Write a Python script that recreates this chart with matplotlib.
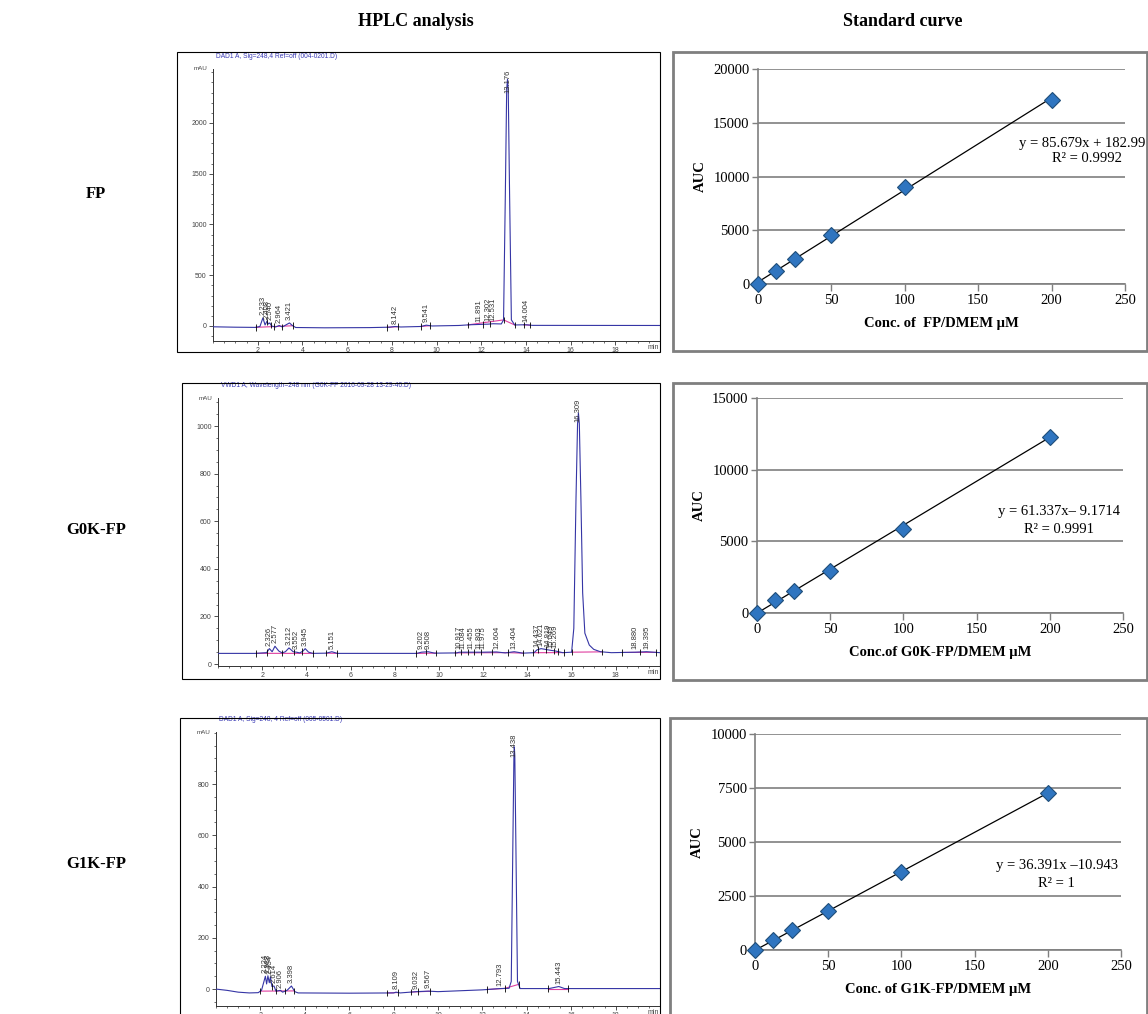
import numpy as np
import matplotlib
matplotlib.use("Agg")
import matplotlib.pyplot as plt
from matplotlib.patches import Rectangle
from matplotlib.ticker import MultipleLocator

plt.rcParams["font.family"] = ["Liberation Serif", "DejaVu Serif"]

W, H = 1148, 1014

# standard curves
conc = [0, 12.5, 25, 50, 100, 200]
auc_fp = [0, 1180, 2330, 4560, 9050, 17120]
auc_g0k = [0, 900, 1560, 2930, 5860, 12300]
auc_g1k = [0, 460, 925, 1820, 3610, 7270]
fit_fp = (85.679, 182.99)
fit_g0k = (61.337, -9.1714)
fit_g1k = (36.391, -10.943)

# chromatograms, points (min, mAU)
fp_t = [0, 1, 1.9, 2.1, 2.233, 2.33, 2.41, 2.48, 2.54, 2.62, 2.8, 2.964, 3.1, 3.3, 3.421, 3.55,
        3.7, 5, 7, 7.9, 8.142, 8.4, 9.3, 9.541, 9.8, 11, 11.5, 11.891, 12.302, 12.531, 12.9,
        13.0, 13.08, 13.14, 13.176, 13.21, 13.27, 13.35, 13.5, 14.004, 14.3, 20]
fp_mau = [-8, -12, -14, -5, 80, 10, 45, 20, 30, 0, -10, 5, -10, 15, 30, 5,
          -15, -18, -16, -12, -5, -10, -5, 8, 0, 5, 12, 15, 18, 22, 20,
          60, 1300, 2330, 2430, 2330, 1300, 60, 10, 12, 6, 5]
fp_peaks = ["2.233", "2.408", "2.540", "2.964", "3.421", "8.142", "9.541", "11.891",
            "12.302", "12.531", "13.176", "14.004"]
fp_events = [1.91, 2.4, 2.6, 2.72, 3.1, 3.57, 7.8, 8.27, 9.3, 9.7, 11.4, 12.1, 12.4, 13.0,
             13.5, 13.9, 14.2]
fp_windows = [(1.91, 3.57), (7.8, 8.27), (9.3, 9.7), (11.4, 13.0), (13.0, 13.5), (13.9, 14.2)]

g0k_t = [0, 1.7, 2.2, 2.326, 2.45, 2.577, 2.75, 2.9, 3.05, 3.212, 3.4, 3.552, 3.7, 3.85, 3.945,
         4.1, 4.3, 4.9, 5.151, 5.4, 9.0, 9.202, 9.508, 9.8, 10.8, 10.917, 11.455, 11.975,
         12.604, 13.0, 13.404, 13.8, 14.3, 14.437, 14.621, 14.919, 15.049, 15.269, 15.6,
         16.0, 16.1, 16.2, 16.27, 16.309, 16.35, 16.42, 16.5, 16.6, 16.8, 17.0, 17.3, 17.8,
         18.88, 19.395, 20]
g0k_mau = [45, 45, 48, 65, 52, 75, 55, 47, 52, 68, 52, 50, 47, 55, 65,
           50, 45, 46, 52, 45, 45, 50, 52, 46, 47, 50, 50, 50,
           51, 47, 52, 46, 48, 60, 65, 60, 58, 55, 48,
           50, 150, 700, 1010, 1055, 1010, 700, 300, 130, 80, 62, 52, 48,
           50, 52, 48]
g0k_peaks = ["2.326", "2.577", "3.212", "3.552", "3.945", "5.151", "9.202", "9.508", "10.917",
             "11.084", "11.455", "11.803", "11.975", "12.604", "13.404", "14.437", "14.621",
             "14.919", "15.049", "15.269", "16.309", "18.880", "19.395"]
g0k_events = [1.73, 2.2, 2.9, 3.45, 3.8, 4.3, 4.9, 5.4, 8.97, 9.4, 9.86, 10.73, 11.0, 11.3,
              11.6, 11.9, 12.4, 13.1, 13.8, 14.27, 14.5, 14.85, 15.2, 15.38, 15.67, 16.0,
              17.37, 18.3, 19.1, 19.8]
g0k_windows = [(1.73, 4.3), (4.9, 5.4), (8.97, 9.86), (10.73, 13.1), (13.1, 13.8),
               (14.27, 15.67), (16.0, 17.37), (18.3, 19.8)]

g1k_t = [0, 0.5, 1, 1.5, 1.9, 2.05, 2.224, 2.28, 2.338, 2.40, 2.454, 2.52, 2.614, 2.7, 2.906,
         3.0, 3.2, 3.398, 3.55, 3.7, 6, 8, 8.109, 8.3, 9.032, 9.567, 10, 12, 12.793, 13.2,
         13.3, 13.37, 13.42, 13.438, 13.46, 13.51, 13.58, 13.7, 15.0, 15.443, 15.7, 20]
g1k_mau = [0, -5, -12, -15, -14, -5, 50, 20, 52, 25, 48, 10, 12, -8, -5,
           -12, -5, 12, -10, -15, -16, -15, -12, -15, -10, -8, -10, -3, 2, 3,
           30, 550, 910, 945, 910, 550, 30, 2, 2, 10, 2, 2]
g1k_peaks = ["2.224", "2.338", "2.454", "2.614", "2.906", "3.398", "8.109", "9.032", "9.567",
             "12.793", "13.438", "15.443"]
g1k_events = [2.0, 2.53, 2.72, 3.13, 3.53, 7.72, 8.2, 8.79, 9.12, 9.66, 12.2, 13.0, 13.63,
              14.96, 15.84]
g1k_windows = [(2.0, 3.53), (7.72, 8.2), (8.79, 9.66), (12.2, 13.0), (13.0, 13.63), (14.96, 15.84)]

trace_blue = "#3535a5"
base_pink = "#e040a0"
sans = ["Liberation Sans", "DejaVu Sans"]

fig = plt.figure(figsize=(W / 100, H / 100), dpi=100)


def px_axes(left, top, right, bottom):
    return fig.add_axes([left / W, 1 - bottom / H, (right - left) / W, (bottom - top) / H])


def box(left, top, right, bottom, color, lw):
    fig.add_artist(Rectangle((left / W, 1 - bottom / H), (right - left) / W, (bottom - top) / H,
                             transform=fig.transFigure, fill=False, ec=color, lw=lw))


def hplc(ax, t, mau, peaks, events, windows, ylim, ymajor, yminor, caption):
    span = ylim[1] - ylim[0]
    ax.plot(t, mau, color=trace_blue, lw=0.8, zorder=3)
    for a, b in windows:
        ax.plot([a, b], np.interp([a, b], t, mau), color=base_pink, lw=0.8, zorder=2)
    ev_y = np.interp(events, t, mau)
    ax.vlines(events, ev_y - 0.012 * span, ev_y + 0.012 * span, color="black", lw=0.6, zorder=4)
    for p in peaks:
        y = min(np.interp(float(p), t, mau), ylim[1] - 0.1 * span)
        ax.annotate(p, (float(p), y), xytext=(0, 2), textcoords="offset points", rotation=90,
                    ha="center", va="bottom", fontsize=5.5, color="#333333", family=sans, zorder=5)
    ax.set_xlim(0, 20)
    ax.set_ylim(*ylim)
    ax.set_xticks(range(2, 19, 2))
    ax.xaxis.set_minor_locator(MultipleLocator(0.5))
    ax.set_yticks(ymajor)
    ax.yaxis.set_minor_locator(MultipleLocator(yminor))
    for s in ["top", "right"]:
        ax.spines[s].set_visible(False)
    for s in ["left", "bottom"]:
        ax.spines[s].set_color("#333333")
        ax.spines[s].set_linewidth(0.7)
    ax.tick_params(which="major", length=3, width=0.6, labelsize=5, pad=1.5,
                   color="#333333", labelcolor="#444444")
    ax.tick_params(which="minor", length=1.5, width=0.5, color="#333333")
    for lab in ax.get_xticklabels() + ax.get_yticklabels():
        lab.set_family(sans)
    ax.annotate("mAU", (0, 1), xycoords="axes fraction", xytext=(-4, 0), textcoords="offset points",
                ha="right", va="center", fontsize=4.5, color="#444444", family=sans)
    ax.annotate("min", (1, 0), xycoords="axes fraction", xytext=(-1, -5), textcoords="offset points",
                ha="right", va="center", fontsize=5, color="#444444", family=sans)
    ax.annotate(caption, (0, 1), xycoords="axes fraction", xytext=(2, 9), textcoords="offset points",
                ha="left", va="center", fontsize=4.8, color="#3a3ab5", family=sans)


def std_curve(ax, auc, fit, ymax, ystep, xlabel, eq, r2, eq_xy, r2_xy, eq_ha):
    ax.set_xlim(0, 250)
    ax.set_ylim(0, ymax)
    ax.set_xticks(range(0, 251, 50))
    ax.set_yticks(np.arange(0, ymax + 1, ystep))
    ax.grid(axis="y", color="#7f7f7f", lw=1.2)
    ax.set_axisbelow(True)
    xs = np.array([0, 200])
    ax.plot(xs, fit[0] * xs + fit[1], color="black", lw=0.9, zorder=3)
    ax.plot(conc, auc, ls="none", marker="D", ms=8, mfc="#2f75c0", mec="#1f4e79", mew=0.8,
            zorder=4, clip_on=False)
    for s in ["top", "right"]:
        ax.spines[s].set_visible(False)
    for s in ["left", "bottom"]:
        ax.spines[s].set_color("#7f7f7f")
        ax.spines[s].set_linewidth(1.2)
    ax.tick_params(axis="x", length=5, width=1, color="#7f7f7f", labelsize=10.5, pad=2)
    ax.tick_params(axis="y", length=4, width=1, color="#7f7f7f", labelsize=10.5, pad=2)
    ax.text(0.5, -0.185, xlabel, transform=ax.transAxes, ha="center", va="center",
            fontsize=10.5, fontweight="bold")
    ax.text(-0.158, 0.5, "AUC", transform=ax.transAxes, ha="center", va="center",
            rotation=90, fontsize=10.5, fontweight="bold")
    ax.text(eq_xy[0], eq_xy[1], eq, ha=eq_ha, va="center", fontsize=10.5, clip_on=False)
    ax.text(r2_xy[0], r2_xy[1], r2, ha="center", va="center", fontsize=10.5, clip_on=False)


# titles and row labels
fig.text(416 / W, 1 - 22 / H, "HPLC analysis", ha="center", va="center", fontsize=13, fontweight="bold")
fig.text(903 / W, 1 - 22 / H, "Standard curve", ha="center", va="center", fontsize=13, fontweight="bold")
for name, yc in [("FP", 194), ("G0K-FP", 530), ("G1K-FP", 864)]:
    fig.text(96 / W, 1 - yc / H, name, ha="center", va="center", fontsize=12, fontweight="bold")

# row 1
box(177, 52, 660, 352, "black", 0.8)
ax = px_axes(213, 69, 660, 341)
hplc(ax, fp_t, fp_mau, fp_peaks, fp_events, fp_windows, (-148, 2532),
     [0, 500, 1000, 1500, 2000], 100, "DAD1 A, Sig=248,4 Ref=off (004-0201.D)")
box(673, 52, 1147, 351, "#7f7f7f", 2)
ax = px_axes(758, 69, 1125, 284)
std_curve(ax, auc_fp, fit_fp, 20000, 5000, "Conc. of  FP/DMEM µM",
          "y = 85.679x + 182.99", "R² = 0.9992", (264, 13100), (224, 11630), "right")

# row 2
box(182, 383, 660, 679, "black", 0.8)
ax = px_axes(218, 398, 660, 666)
hplc(ax, g0k_t, g0k_mau, g0k_peaks, g0k_events, g0k_windows, (-8, 1118),
     [0, 200, 400, 600, 800, 1000], 50,
     "VWD1 A, Wavelength=248 nm (G0K-FP 2016-09-28 13-29-40.D)")
box(673, 383, 1147, 680, "#7f7f7f", 2)
ax = px_axes(757, 398, 1123, 613)
std_curve(ax, auc_g0k, fit_g0k, 15000, 5000, "Conc.of G0K-FP/DMEM µM",
          "y = 61.337x– 9.1714", "R² = 0.9991", (206, 7050), (206, 5860), "center")

# row 3
box(180, 718, 660, 1030, "black", 0.8)
ax = px_axes(216, 732, 660, 1006)
hplc(ax, g1k_t, g1k_mau, g1k_peaks, g1k_events, g1k_windows, (-66, 1003),
     [0, 200, 400, 600, 800], 50, "DAD1 A, Sig=248, 4 Ref=off (005-0501.D)")
box(670, 718, 1147, 1030, "#7f7f7f", 2)
ax = px_axes(755, 734, 1121, 950)
std_curve(ax, auc_g1k, fit_g1k, 10000, 2500, "Conc. of G1K-FP/DMEM µM",
          "y = 36.391x –10.943", "R² = 1", (206, 3890), (206, 3100), "center")

fig.savefig("out.png", dpi=100)
